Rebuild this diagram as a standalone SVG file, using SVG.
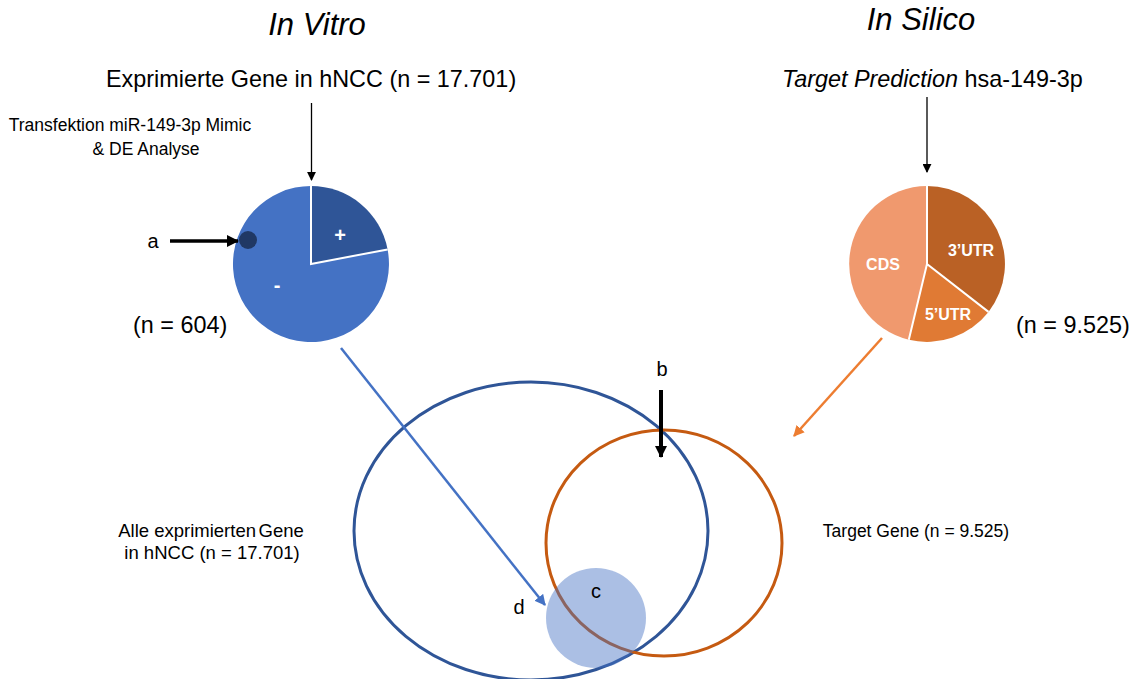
<svg xmlns="http://www.w3.org/2000/svg" width="1132" height="679" viewBox="0 0 1132 679">
<defs>
<style>
text{font-family:"Liberation Sans",Arial,sans-serif;fill:#000}
.title{font-size:31px;font-style:italic}
.h{font-size:23.4px}
.sm{font-size:17.5px}
.vl{font-size:18.5px}
.lbl{font-size:20px}
.w{fill:#fff;font-weight:bold}
.sep{stroke:#fff;stroke-width:2;fill:none}
</style>
<marker id="ahK" markerUnits="userSpaceOnUse" markerWidth="12" markerHeight="12" viewBox="0 0 12 12" refX="11" refY="6" orient="auto"><path d="M0,0 L12,6 L0,12 Z" fill="#000"/></marker>
<marker id="ahT" markerUnits="userSpaceOnUse" markerWidth="9" markerHeight="9" viewBox="0 0 10 10" refX="9" refY="5" orient="auto"><path d="M0,0 L10,5 L0,10 Z" fill="#000"/></marker>
<marker id="ahB" markerUnits="userSpaceOnUse" markerWidth="11" markerHeight="11" viewBox="0 0 10 10" refX="9" refY="5" orient="auto"><path d="M0,0 L10,5 L0,10 Z" fill="#4472C4"/></marker>
<marker id="ahO" markerUnits="userSpaceOnUse" markerWidth="11" markerHeight="11" viewBox="0 0 10 10" refX="9" refY="5" orient="auto"><path d="M0,0 L10,5 L0,10 Z" fill="#ED7D31"/></marker>
</defs>
<g id="titles">
<text class="title" x="317" y="35" text-anchor="middle">In Vitro</text>
<text class="title" x="921" y="30" text-anchor="middle">In Silico</text>
</g>
<g id="expr-genes"><text class="h" x="106" y="87">Exprimierte Gene in hNCC (n = 17.701)</text></g>
<g id="target-prediction"><text class="h" x="782" y="87"><tspan font-style="italic">Target Prediction</tspan> hsa-149-3p</text></g>
<g id="transfection">
<text class="sm" x="130" y="131" text-anchor="middle">Transfektion  miR-149-3p Mimic</text>
<text class="sm" x="146" y="155" text-anchor="middle">&amp; DE Analyse</text>
</g>
<g id="pie-invitro">
<path d="M311,264 L387.6,249.4 A78,78 0 1,1 311,186 Z" fill="#4472C4"/>
<path d="M311,264 L311,186 A78,78 0 0,1 387.6,249.4 Z" fill="#2F5597"/>
<path class="sep" d="M311,186 L311,264 L387.6,249.4"/>
<circle cx="248" cy="240" r="9" fill="#203864"/>
<text class="lbl w" x="340" y="242" text-anchor="middle">+</text>
<text class="lbl w" x="277" y="292" text-anchor="middle">-</text>
<text class="h" x="133" y="333">(n = 604)</text>
</g>
<g id="pie-insilico">
<path d="M927,264 L927,186 A78,78 0 0,1 988.5,311.9 Z" fill="#BA6125"/>
<path d="M927,264 L988.5,311.9 A78,78 0 0,1 908.8,339.8 Z" fill="#E07A34"/>
<path d="M927,264 L908.8,339.8 A78,78 0 0,1 927,186 Z" fill="#F0996E"/>
<path class="sep" d="M927,186 L927,264 L988.5,311.9 M927,264 L908.8,339.8"/>
<text class="w" font-size="16" x="971" y="256" text-anchor="middle">3’UTR</text>
<text class="w" font-size="16" x="883" y="270" text-anchor="middle">CDS</text>
<text class="w" font-size="16" x="948" y="320" text-anchor="middle">5’UTR</text>
<text class="h" x="1016" y="333">(n = 9.525)</text>
</g>
<g id="venn">
<ellipse cx="531" cy="531" rx="177" ry="149" fill="none" stroke="#2F5597" stroke-width="3"/>
<ellipse cx="664" cy="543" rx="118" ry="113" fill="none" stroke="#C55A11" stroke-width="3"/>
<circle id="c" cx="596" cy="618" r="50" fill="#4472C4" fill-opacity="0.45"/>
<text class="lbl" x="596" y="598" text-anchor="middle">c</text>
<text class="lbl" x="519" y="614" text-anchor="middle">d</text>
<text class="lbl" x="662" y="376" text-anchor="middle">b</text>
<text class="vl" x="211" y="537" text-anchor="middle"><tspan>Alle exprimierten</tspan><tspan dx="2.5">Gene</tspan></text>
<text class="vl" x="212" y="559" text-anchor="middle">in hNCC (n = 17.701)</text>
<text class="sm" font-size="18px" x="916" y="537" text-anchor="middle">Target Gene (n = 9.525)</text>
</g>
<g id="label-a"><text class="lbl" x="153" y="248" text-anchor="middle">a</text></g>
<g id="connectors" fill="none">
<line x1="311.5" y1="103" x2="311.5" y2="180" stroke="#000" stroke-width="1.3" marker-end="url(#ahT)"/>
<line x1="927" y1="97" x2="927" y2="172" stroke="#000" stroke-width="1.3" marker-end="url(#ahT)"/>
<line x1="170" y1="241" x2="238" y2="241" stroke="#000" stroke-width="3.5" marker-end="url(#ahK)"/>
<line x1="661" y1="390" x2="661" y2="457" stroke="#000" stroke-width="4" marker-end="url(#ahK)"/>
<line x1="341" y1="348" x2="545" y2="605" stroke="#4472C4" stroke-width="2.5" marker-end="url(#ahB)"/>
<line x1="882" y1="338" x2="794" y2="436" stroke="#ED7D31" stroke-width="2.5" marker-end="url(#ahO)"/>
</g>
</svg>
